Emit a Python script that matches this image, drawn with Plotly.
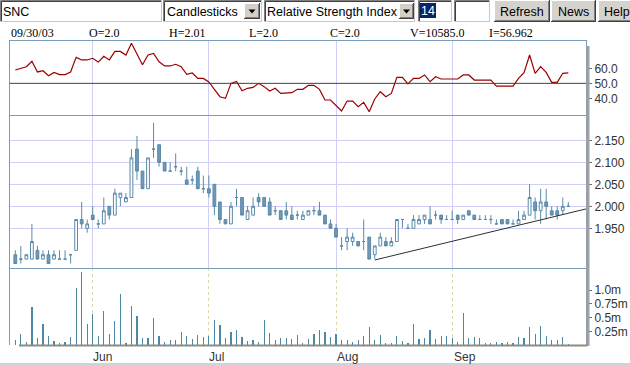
import plotly.graph_objects as go

# ---------------- data ----------------
symbol = "SNC"
chart_type = "Candlesticks"
indicator = "Relative Strength Index"
indicator_period = "14"
buttons = ["Refresh", "News", "Help"]
header_items = ["09/30/03", "O=2.0", "H=2.01", "L=2.0", "C=2.0", "V=10585.0", "I=56.962"]

month_labels = ["Jun", "Jul", "Aug", "Sep"]
month_pos = [13.92, 34.9, 58.05, 79.1]   # trading-day index of month gridlines

open_ = [1.89, 1.88, 1.88, 1.88, 1.90, 1.88, 1.89, 1.88, 1.88, 1.88,
         1.89, 1.90, 1.97, 1.95, 1.98, 1.96, 1.96, 2.00, 1.98, 2.02,
         2.01, 2.02, 2.13, 2.08, 2.04, 2.13, 2.14, 2.10, 2.08, 2.09,
         2.08, 2.06, 2.06, 2.08, 2.04, 2.04, 2.05, 2.01, 1.97, 1.96,
         2.02, 2.02, 1.97, 1.98, 2.02, 2.02, 2.01, 1.99, 1.99, 1.99,
         1.98, 1.98, 1.97, 1.98, 1.99, 1.99, 1.98, 1.96, 1.95, 1.91,
         1.92, 1.92, 1.92, 1.92, 1.93, 1.89, 1.91, 1.92, 1.91, 1.92,
         1.97, 1.95, 1.95, 1.96, 1.97, 1.97, 1.98, 1.98, 1.97, 1.97,
         1.98, 1.97, 1.99, 1.98, 1.97, 1.97, 1.97, 1.96, 1.97, 1.97,
         1.96, 1.96, 1.97, 1.98, 2.01, 1.99, 2.01, 1.99, 1.99, 1.99,
         2.00]
high = [1.90, 1.91, 1.89, 1.96, 1.91, 1.90, 1.90, 1.90, 1.90, 1.90,
        1.89, 1.97, 2.01, 1.97, 2.00, 1.97, 2.02, 2.00, 2.04, 2.03,
        2.03, 2.13, 2.16, 2.08, 2.11, 2.19, 2.14, 2.10, 2.10, 2.12,
        2.09, 2.09, 2.07, 2.09, 2.07, 2.07, 2.05, 2.01, 1.97, 2.01,
        2.04, 2.02, 2.00, 2.02, 2.03, 2.02, 2.02, 2.00, 1.99, 2.01,
        2.00, 1.99, 1.99, 1.99, 2.00, 2.01, 1.98, 1.97, 1.96, 1.93,
        1.95, 1.94, 1.92, 1.97, 1.93, 1.91, 1.94, 1.93, 1.93, 1.97,
        1.97, 1.96, 1.98, 1.98, 1.98, 2.00, 1.99, 1.98, 1.98, 1.99,
        1.98, 1.98, 1.99, 1.98, 1.98, 1.98, 1.98, 1.97, 1.97, 1.97,
        1.97, 1.99, 1.99, 2.05, 2.02, 2.04, 2.04, 2.00, 2.00, 2.02,
        2.01]
low = [1.87, 1.87, 1.88, 1.88, 1.88, 1.88, 1.87, 1.88, 1.88, 1.88,
       1.87, 1.90, 1.95, 1.94, 1.97, 1.95, 1.96, 1.97, 1.98, 2.00,
       2.01, 2.02, 2.06, 2.04, 2.04, 2.11, 2.09, 2.08, 2.08, 2.08,
       2.07, 2.05, 2.05, 2.04, 2.03, 2.02, 1.98, 1.96, 1.96, 1.96,
       2.00, 1.98, 1.97, 1.98, 2.00, 2.00, 1.98, 1.98, 1.97, 1.97,
       1.97, 1.97, 1.97, 1.98, 1.98, 1.98, 1.96, 1.95, 1.93, 1.90,
       1.90, 1.91, 1.91, 1.90, 1.88, 1.88, 1.91, 1.91, 1.91, 1.92,
       1.95, 1.95, 1.95, 1.96, 1.96, 1.96, 1.97, 1.96, 1.97, 1.97,
       1.96, 1.97, 1.98, 1.97, 1.97, 1.97, 1.96, 1.96, 1.96, 1.96,
       1.96, 1.96, 1.97, 1.98, 1.97, 1.96, 1.97, 1.98, 1.97, 1.98,
       2.00]
close = [1.87, 1.88, 1.89, 1.92, 1.88, 1.89, 1.87, 1.89, 1.88, 1.88,
         1.89, 1.97, 1.96, 1.96, 1.97, 1.96, 1.99, 1.98, 2.03, 2.03,
         2.02, 2.11, 2.08, 2.04, 2.11, 2.13, 2.10, 2.08, 2.08, 2.09,
         2.08, 2.05, 2.06, 2.04, 2.04, 2.03, 2.00, 1.97, 1.96, 2.00,
         2.02, 1.98, 1.99, 2.00, 2.01, 2.00, 1.98, 1.99, 1.97, 1.98,
         1.97, 1.98, 1.98, 1.99, 1.99, 1.98, 1.96, 1.95, 1.93, 1.91,
         1.93, 1.93, 1.91, 1.92, 1.88, 1.91, 1.93, 1.91, 1.92, 1.97,
         1.97, 1.95, 1.97, 1.97, 1.98, 1.96, 1.98, 1.97, 1.97, 1.97,
         1.97, 1.98, 1.98, 1.97, 1.97, 1.97, 1.97, 1.96, 1.96, 1.96,
         1.96, 1.97, 1.98, 2.02, 1.99, 2.01, 2.00, 1.98, 1.98, 2.00,
         2.00]
rsi = [58.9, 59.8, 61.1, 64.7, 57.6, 58.4, 55.1, 57.3, 55.8, 55.8,
       57.6, 67.3, 65.6, 65.6, 66.7, 64.2, 68.0, 65.6, 71.3, 71.3,
       68.9, 76.7, 69.6, 62.4, 68.9, 70.0, 64.4, 61.6, 61.6, 62.7,
       61.1, 56.0, 56.9, 53.3, 53.3, 50.9, 46.0, 41.1, 40.0, 50.0,
       51.3, 45.1, 46.7, 47.3, 50.0, 47.8, 44.9, 46.7, 43.3, 43.3,
       43.8, 46.0, 46.0, 48.7, 48.7, 46.0, 38.9, 38.9, 35.1, 31.6,
       38.2, 38.2, 34.4, 37.3, 31.1, 39.6, 44.4, 41.1, 43.3, 54.0,
       54.0, 49.6, 53.3, 53.3, 55.6, 51.1, 54.4, 52.9, 52.9, 52.9,
       52.9, 55.6, 55.6, 52.2, 52.2, 52.2, 52.2, 48.2, 48.2, 48.2,
       48.2, 53.3, 57.1, 68.9, 56.7, 61.1, 57.3, 50.7, 50.7, 56.7,
       56.962]
volume = [85000, 195000, 49000, 687000, 122000, 377000, 158000, 67000, 30000, 49000,
          140000, 1034000, 1326000, 377000, 560000, 158000, 614000, 195000, 432000, 925000,
          30000, 706000, 523000, 122000, 122000, 487000, 158000, 49000, 85000, 85000,
          231000, 158000, 103000, 176000, 140000, 158000, 450000, 359000, 122000, 231000,
          268000, 140000, 67000, 85000, 49000, 450000, 213000, 85000, 122000, 122000,
          103000, 176000, 30000, 103000, 195000, 268000, 231000, 140000, 195000, 85000,
          85000, 49000, 85000, 158000, 322000, 85000, 176000, 30000, 30000, 158000,
          67000, 30000, 377000, 103000, 122000, 268000, 103000, 158000, 158000, 122000,
          55000, 578000, 122000, 140000, 122000, 30000, 30000, 49000, 30000, 49000,
          30000, 140000, 128000, 322000, 195000, 341000, 158000, 85000, 85000, 140000,
          10585]
trend_x = [65, 103.2]
trend_y = [1.878, 1.994]
rsi_mid = 50
rsi_ticks = [40, 50, 60]
price_ticks = [1.95, 2.00, 2.05, 2.10, 2.15]
vol_ticks = [250000, 500000, 750000, 1000000]
vol_ticktext = ["0.25m", "0.5m", "0.75m", "1.0m"]

# ---------------- layout constants ----------------
W, H = 630, 365
FRAME = "#7c9cbc"
CANDLE_LINE = "#5b8aa8"
CANDLE_FILL = "#7198b8"
VOL_COLOR = "#4a88a4"
RSI_COLOR = "#990000"
GRID = "#d0d0f6"
SANS = "Liberation Sans, Arial, sans-serif"
SERIF = "Liberation Serif, Times New Roman, serif"
TICKFONT = dict(family=SANS, size=12, color="#333333")
HEADER_X = [10, 88, 168, 248, 329, 409, 488]
UI_SIZE = 12.5


def fx(px):
    return px / W


def fy(py):
    return 1 - py / H


x_idx = list(range(len(close)))
XR = [-0.96, 103.2]
dom_x = [fx(10), fx(586)]
dom_rsi = [fy(115), fy(40)]
dom_price = [fy(268), fy(115)]
dom_vol = [fy(345), fy(268)]

fig = go.Figure()
fig.add_trace(go.Scatter(x=x_idx, y=rsi, mode="lines", line=dict(color=RSI_COLOR, width=1.2),
                         xaxis="x", yaxis="y", showlegend=False, hoverinfo="skip"))
fig.add_trace(go.Candlestick(x=x_idx, open=open_, high=high, low=low, close=close,
                             xaxis="x2", yaxis="y2", whiskerwidth=0, showlegend=False,
                             increasing=dict(line=dict(color=CANDLE_LINE, width=1), fillcolor="white"),
                             decreasing=dict(line=dict(color=CANDLE_LINE, width=1), fillcolor=CANDLE_FILL)))
fig.add_trace(go.Scatter(x=trend_x, y=trend_y, mode="lines", line=dict(color="#303030", width=1),
                         xaxis="x2", yaxis="y2", showlegend=False, hoverinfo="skip"))
fig.add_trace(go.Bar(x=x_idx, y=volume, width=0.22, marker=dict(color=VOL_COLOR, line=dict(width=0)),
                     xaxis="x3", yaxis="y3", showlegend=False, hoverinfo="skip"))


def xax(anchor, gridcolor, griddash="solid"):
    return dict(domain=dom_x, range=XR, anchor=anchor, tickmode="array", tickvals=month_pos,
                showticklabels=False, ticks="", showgrid=True, gridcolor=gridcolor, griddash=griddash,
                gridwidth=1, zeroline=False, showline=False,
                rangeslider=dict(visible=False), fixedrange=True)


def yax(anchor, dom, rng, tv, tt, grid):
    return dict(domain=dom, range=rng, anchor=anchor, side="right", tickmode="array", tickvals=tv,
                ticktext=tt, ticks="outside", ticklen=5, tickcolor="#707070", showgrid=grid,
                gridcolor=GRID, zeroline=False, showline=True, linecolor=FRAME, linewidth=1,
                mirror=True, tickfont=TICKFONT, fixedrange=True)


shapes = []
annotations = []


def rect(x0, y0, x1, y1, fill=None, line=None, lw=1):
    shapes.append(dict(type="rect", xref="paper", yref="paper", x0=fx(x0), x1=fx(x1),
                       y0=fy(y1), y1=fy(y0), fillcolor=fill or "rgba(0,0,0,0)",
                       line=dict(color=line or "rgba(0,0,0,0)", width=lw if line else 0)))


def seg(x0, y0, x1, y1, color, lw=1, dash="solid"):
    shapes.append(dict(type="line", xref="paper", yref="paper", x0=fx(x0), x1=fx(x1),
                       y0=fy(y0), y1=fy(y1), line=dict(color=color, width=lw, dash=dash)))


def text(x, y, s, size=UI_SIZE, family=SANS, color="black", xanchor="left", bg=None):
    annotations.append(dict(x=fx(x), y=fy(y), xref="paper", yref="paper", text=s, showarrow=False,
                            xanchor=xanchor, yanchor="middle", font=dict(family=family, size=size, color=color),
                            bgcolor=bg, borderpad=0))


def sunken(x0, y0, x1, y1):
    rect(x0, y0, x1, y1, fill="white")
    seg(x0 + 0.5, y0 + 0.5, x1, y0 + 0.5, "#808080")
    seg(x0 + 0.5, y0 + 0.5, x0 + 0.5, y1, "#808080")
    seg(x0 + 1.5, y0 + 1.5, x1 - 1, y0 + 1.5, "#404040")
    seg(x0 + 1.5, y0 + 1.5, x0 + 1.5, y1 - 1, "#404040")
    seg(x0, y1 - 0.5, x1, y1 - 0.5, "#c8c8c8")
    seg(x1 - 0.5, y0, x1 - 0.5, y1, "#c8c8c8")


def raised(x0, y0, x1, y1, fill="#d4d0c8"):
    rect(x0, y0, x1, y1, fill=fill)
    seg(x0 + 0.5, y0 + 0.5, x1, y0 + 0.5, "#ffffff")
    seg(x0 + 0.5, y0 + 0.5, x0 + 0.5, y1, "#ffffff")
    seg(x0, y1 - 0.5, x1, y1 - 0.5, "#404040")
    seg(x1 - 0.5, y0, x1 - 0.5, y1, "#404040")
    seg(x0 + 1, y1 - 1.5, x1 - 1, y1 - 1.5, "#808080")
    seg(x1 - 1.5, y0 + 1, x1 - 1.5, y1 - 1, "#808080")


def arrow_btn(x0, y0, x1, y1):
    raised(x0, y0, x1, y1)
    cx, cy = (x0 + x1) / 2, (y0 + y1) / 2
    path = "M {} {} L {} {} L {} {} Z".format(fx(cx - 3.5), fy(cy - 1.5), fx(cx + 3.5), fy(cy - 1.5), fx(cx), fy(cy + 2.5))
    shapes.append(dict(type="path", xref="paper", yref="paper", path=path, fillcolor="black", line=dict(width=0)))


# toolbar
sunken(0, 0, 162, 22)
text(2, 11.5, symbol)
sunken(163, 0, 262, 22)
text(166, 11.5, chart_type)
arrow_btn(244, 3, 260, 19)
sunken(264, 0, 415, 22)
text(266, 11.5, indicator)
arrow_btn(399, 3, 414, 19)
sunken(418, 0, 452, 22)
rect(420, 3, 436, 18, fill="#0a246a")
text(420, 11, indicator_period, color="white")
sunken(454, 0, 490, 22)
for (bx0, bx1), label in zip([(494, 550), (551, 596), (598, 640)], buttons):
    raised(bx0, 0, bx1, 22, fill="#d6d3ce")
    text((bx0 + bx1) / 2 if label != "Help" else 603, 11.5, label,
         xanchor="center" if label != "Help" else "left")

# header line with the last quote
for hx, s in zip(HEADER_X, header_items):
    text(hx, 32.5, s, size=12, family=SERIF)

# RSI 50 reference line
shapes.append(dict(type="line", xref="x domain", yref="y", x0=0, x1=1, y0=rsi_mid, y1=rsi_mid,
                   line=dict(color="#404040", width=1)))
# panel separators
for yy in (40.5, 115.5, 268.5):
    seg(10, yy, 586, yy, FRAME, lw=1)
# right gray bar, volume baseline, bottom frame
seg(588, 46, 588, 346, "#a0a0a0", lw=3)
seg(19, 345.5, 587, 345.5, "#8c8c86", lw=2)
seg(0, 364, 630, 364, "#9aa8b8", lw=1)

# month labels
for pos, lab in zip(month_pos, month_labels):
    annotations.append(dict(x=pos, xref="x3", y=fy(357), yref="paper", text=lab, showarrow=False,
                            xanchor="left", yanchor="middle", xshift=-1,
                            font=dict(family=SANS, size=12, color="#333333")))

fig.update_layout(
    width=W, height=H, margin=dict(l=0, r=0, t=0, b=0),
    paper_bgcolor="white", plot_bgcolor="white", showlegend=False,
    boxgap=0.28, bargap=0,
    xaxis=xax("y", GRID),
    xaxis2=xax("y2", GRID),
    xaxis3=xax("y3", "#ddd8b0", "dot"),
    yaxis=yax("x", dom_rsi, [28.9, 78.9], rsi_ticks, [f"{v:.1f}" for v in rsi_ticks], False),
    yaxis2=yax("x2", dom_price, [1.8598, 2.2075], price_ticks, [f"{v:.3f}" for v in price_ticks], True),
    yaxis3=yax("x3", dom_vol, [0, 1.405e6], vol_ticks, vol_ticktext, False),
    shapes=shapes, annotations=annotations,
)

fig.write_html("out.html", include_plotlyjs=True, full_html=True,
               config={"displayModeBar": False, "staticPlot": True},
               post_script="document.body.style.margin='0';document.body.style.overflow='hidden';")
